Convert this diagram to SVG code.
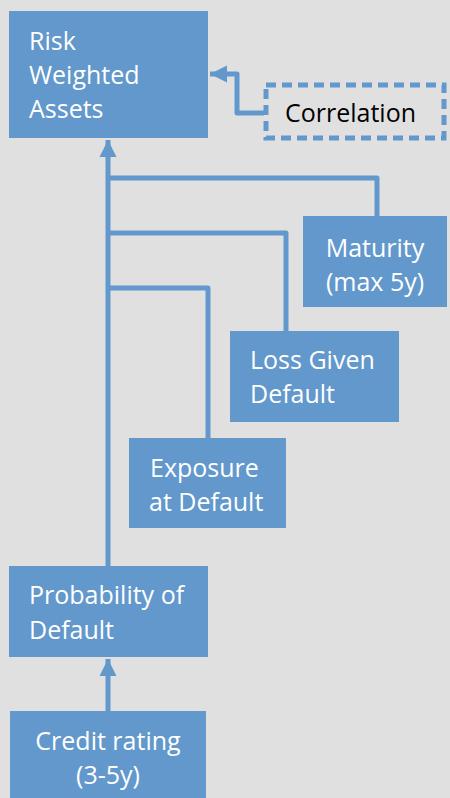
<svg xmlns="http://www.w3.org/2000/svg" width="450" height="798" viewBox="0 0 450 798">
<defs>
<style>
.box{fill:#6298cb;}
.t{font-family:"Open Sans","Liberation Sans",sans-serif;font-size:25px;fill:#ffffff;}
.c{text-anchor:middle;}
.ln{fill:none;stroke:#6298cb;stroke-width:5;stroke-linejoin:round;}
.dash{fill:#e0e0e0;stroke:#6298cb;stroke-width:5;stroke-dasharray:10 6;}
</style>
<marker id="ah" viewBox="0 0 10 10" refX="10" refY="5" markerWidth="3.4" markerHeight="3.6" orient="auto" markerUnits="strokeWidth">
<path d="M0,0 L10,5 L0,10 z" fill="#6298cb"/>
</marker>
</defs>
<rect width="450" height="798" fill="#e0e0e0"/>
<g id="connectors">
<path class="ln" d="M108,566 L108,140" marker-end="url(#ah)"/>
<path class="ln" d="M108,178 L377,178 L377,216"/>
<path class="ln" d="M108,233 L286,233 L286,331"/>
<path class="ln" d="M108,288 L208,288 L208,438"/>
<path class="ln" d="M108,711 L108,659" marker-end="url(#ah)"/>
<path class="ln" d="M264,113 L237,113 L237,74 L210,74" marker-end="url(#ah)"/>
</g>
<g id="rwa">
<rect class="box" x="9" y="11" width="199" height="127"/>
<text class="t" x="29" y="50">Risk</text>
<text class="t" x="29" y="84">Weighted</text>
<text class="t" x="29" y="118">Assets</text>
</g>
<g id="correlation">
<rect class="dash" x="266" y="85" width="178" height="53"/>
<text class="t" x="285" y="122" style="fill:#000000">Correlation</text>
</g>
<g id="maturity">
<rect class="box" x="303" y="216" width="144" height="91"/>
<text class="t c" x="375" y="257">Maturity</text>
<text class="t c" x="375" y="291">(max 5y)</text>
</g>
<g id="lgd">
<rect class="box" x="230" y="331" width="169" height="91"/>
<text class="t" x="250" y="369">Loss Given</text>
<text class="t" x="250" y="403">Default</text>
</g>
<g id="ead">
<rect class="box" x="129" y="438" width="157" height="90"/>
<text class="t" x="150" y="477">Exposure</text>
<text class="t" x="149" y="511">at Default</text>
</g>
<g id="pd">
<rect class="box" x="9" y="566" width="199" height="91"/>
<text class="t" x="29" y="604">Probability of</text>
<text class="t" x="29" y="639">Default</text>
</g>
<g id="credit">
<rect class="box" x="10" y="711" width="196" height="87"/>
<text class="t c" x="108" y="750">Credit rating</text>
<text class="t c" x="108" y="784">(3-5y)</text>
</g>
</svg>
